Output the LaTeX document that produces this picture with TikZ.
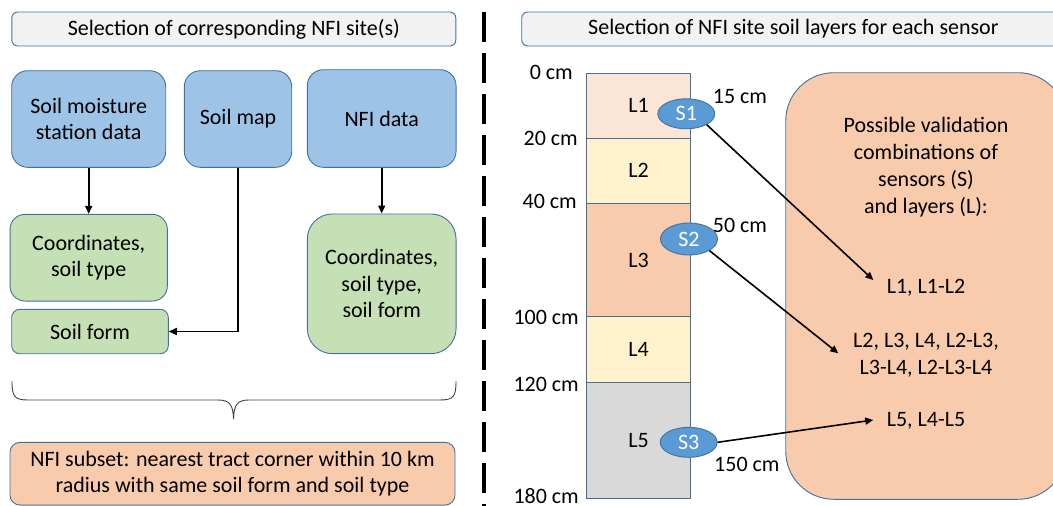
\documentclass[tikz,border=0pt]{standalone}
\usepackage{fontspec}
\setmainfont{Carlito}
\usetikzlibrary{shapes.geometric,arrows.meta}
\definecolor{edge}{HTML}{41719C}
\definecolor{titlefill}{HTML}{F2F2F2}
\definecolor{srcfill}{HTML}{9DC3E6}
\definecolor{resfill}{HTML}{C5E0B4}
\definecolor{peach}{HTML}{F8CBAD}
\definecolor{lightpeach}{HTML}{FBE5D6}
\definecolor{cream}{HTML}{FFF2CC}
\definecolor{stone}{HTML}{D9D9D9}
\definecolor{sensfill}{HTML}{5B9BD5}
\definecolor{bracecol}{HTML}{404040}
\tikzset{
  txt/.style={font=\fontsize{22}{26.5}\selectfont, align=center},
  box/.style={txt, draw=edge, line width=0.9pt, inner sep=0pt},
  titlebox/.style={box, fill=titlefill, rounded corners=6pt},
  srcbox/.style={box, fill=srcfill, rounded corners=16pt},
  resbox/.style={box, fill=resfill},
  layerbox/.style={box, minimum width=103.6pt},
  sensor/.style={ellipse, draw=edge, line width=0.9pt, fill=sensfill, text=white,
    font=\fontsize{22}{26.5}\selectfont, inner sep=0pt, minimum width=57pt, minimum height=30pt},
  depth/.style={txt, anchor=base east, inner sep=0pt},
  flow/.style={line width=1.6pt, -{Triangle[length=8pt,width=7pt]}},
}
\begin{document}
\begin{tikzpicture}[x=1pt,y=-1pt]
\useasboundingbox (0,0) rectangle (1053,506);
\clip (0,0) rectangle (1053,506);

% ---------- left panel: choosing the NFI site ----------
\node[titlebox, minimum width=444pt, minimum height=34pt] (ltitle) at (233.8,29)
  {Selection of corresponding NFI site(s)};

\node[srcbox, minimum width=154pt, minimum height=96.6pt] (station) at (88.7,119)
  {Soil moisture\\station data};
\node[srcbox, minimum width=107.4pt, minimum height=96.6pt] (map) at (238,119) {Soil map};
\node[srcbox, minimum width=148.7pt, minimum height=97.6pt] (nfi) at (381.7,118.5) {NFI data};

\node[resbox, rounded corners=15pt, minimum width=157.3pt, minimum height=86.7pt] (coord)
  at (88.7,257.7) {Coordinates,\\soil type};
\node[resbox, rounded corners=8pt, minimum width=156.6pt, minimum height=44.4pt] (form)
  at (90,331.5) {Soil form};
\node[resbox, rounded corners=25pt, minimum width=148.7pt, minimum height=139.7pt] (nficoord)
  at (381.7,283.8) {Coordinates,\\soil type,\\soil form};

\draw[flow] (station) -- (coord);
\draw[flow] (map.south) |- (form.east);
\draw[flow] (nfi) -- (nficoord);

% curly brace gathering the three inputs
\draw[bracecol, line width=0.9pt]
  (12,381) .. controls (12,396) and (14,400) .. (28,400) -- (218,400)
  .. controls (230,400) and (233,405) .. (233.5,419)
  .. controls (234,405) and (237,400) .. (249,400) -- (440,400)
  .. controls (454,400) and (456,396) .. (456,381);

\node[box, fill=peach, rounded corners=10pt, minimum width=445pt, minimum height=62.7pt]
  (subset) at (232.5,473.7)
  {NFI subset: nearest tract corner within 10 km\\radius with same soil form and soil type};

% separator between the two panels
\draw[line width=4pt, dash pattern=on 30pt off 11pt] (484,12) -- (484,506);

% ---------- right panel: soil layers per sensor ----------
\node[titlebox, minimum width=543.3pt, minimum height=34pt] (rtitle) at (793.4,29)
  {Selection of NFI site soil layers for each sensor};

\node[layerbox, fill=lightpeach, minimum height=64.7pt] (l1) at (638.5,105.7) {L1};
\node[layerbox, fill=cream, minimum height=65.3pt] (l2) at (638.5,170.7) {L2};
\node[layerbox, fill=peach, minimum height=113.4pt] (l3) at (638.5,260) {L3};
\node[layerbox, fill=cream, minimum height=65.3pt] (l4) at (638.5,349.3) {L4};
\node[layerbox, fill=stone, minimum height=116.3pt] (l5) at (638.5,440.2) {L5};

\node[depth] (d0) at (573,79.3) {0 cm};
\node[depth] (d20) at (578,145.7) {20 cm};
\node[depth] (d40) at (577,208.3) {40 cm};
\node[depth] (d100) at (579,324) {100 cm};
\node[depth] (d120) at (579,391.7) {120 cm};
\node[depth] (d180) at (579,503.3) {180 cm};

\node[box, fill=peach, rounded corners=48pt, minimum width=280.3pt, minimum height=426.6pt]
  (combo) at (925.9,286) {};
\node[txt, font=\fontsize{22}{27.2}\selectfont] (combohead) at (926,167)
  {Possible validation\\combinations of\\sensors (S)\\and layers (L):};
\node[txt, anchor=base] (c1) at (926,293.3) {L1, L1-L2};
\node[txt] (c2) at (926,355.5) {L2, L3, L4, L2-L3,\\L3-L4, L2-L3-L4};
\node[txt, anchor=base] (c3) at (926,426.7) {L5, L4-L5};

\node[sensor] (s1) at (686.3,113.8) {S1};
\node[sensor, minimum height=32pt] (s2) at (689,239) {S2};
\node[sensor] (s3) at (688.7,442.3) {S3};

\node[txt, anchor=base west, inner sep=0pt] (s1lab) at (712.7,103.3) {15 cm};
\node[txt, anchor=base west, inner sep=0pt] (s2lab) at (712.7,232.7) {50 cm};
\node[txt, anchor=base west, inner sep=0pt] (s3lab) at (714,471.7) {150 cm};

\coordinate (t1) at (873.3,280);
\coordinate (t2) at (838.3,353.3);
\coordinate (t3) at (873.3,420);
\draw[flow] (s1.south east) -- (t1);
\draw[flow] (s2.south east) -- (t2);
\draw[flow] (s3.east) -- (t3);
\end{tikzpicture}
\end{document}
